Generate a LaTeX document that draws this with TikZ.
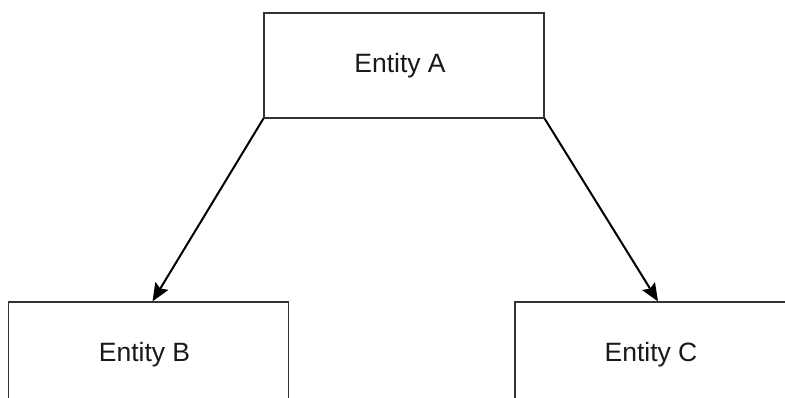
\documentclass[tikz,border=0pt]{standalone}
\usepackage{fontspec}
\setmainfont{Liberation Sans}
\usetikzlibrary{arrows.meta}
\tikzset{
  entity/.style={draw=black!80, line width=1.2pt, fill=white, minimum width=280pt, minimum height=105pt, inner sep=0pt, font=\fontsize{26.5}{30}\selectfont, text=black!90, execute at begin node={\hspace*{-8pt}}},
  rel/.style={draw=black, line width=2pt, -{Stealth[length=18pt,width=15pt,inset=3pt]}}
}
\begin{document}
\begin{tikzpicture}[x=1pt,y=-1pt]
\useasboundingbox (0,0) rectangle (785,398);
\clip (0,0) rectangle (785,398);
\fill[white] (0,0) rectangle (785,398);
\node[entity] (A) at (404,65.5) {Entity A};
\node[entity] (B) at (148.5,354.5) {Entity B};
\node[entity] (C) at (655,354.5) {Entity C};
\coordinate (bt) at ([xshift=4pt]B.north);
\coordinate (ct) at ([xshift=3pt]C.north);
\draw[rel] (A.south west) -- (bt);
\draw[rel] (A.south east) -- (ct);
\end{tikzpicture}
\end{document}
